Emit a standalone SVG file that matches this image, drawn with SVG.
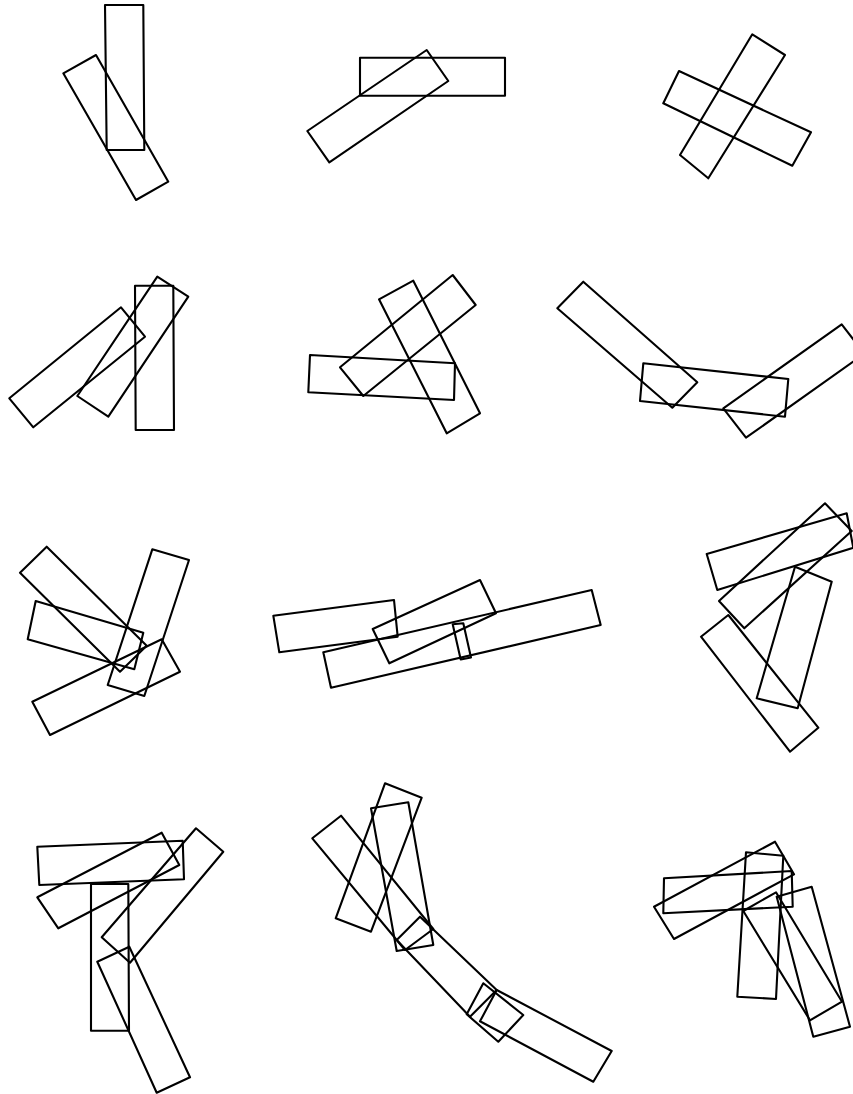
<svg xmlns="http://www.w3.org/2000/svg" width="853" height="1094" viewBox="0 0 853 1094">
<style>
polygon{fill:none;stroke:#000;stroke-width:2.1;stroke-linejoin:round}
</style>
<rect width="853" height="1094" fill="#fff"/>
<g id="p1">
<polygon points="105,5 143.3,5 144.3,150 106.7,150"/>
<polygon points="63.3,73.3 96,55 168.3,181.7 136,200"/>
</g>
<g id="p2">
<polygon points="360,57.7 505,57.7 505,95.7 360,95.7"/>
<polygon points="307.3,131 426.7,50 448.3,81 329.3,162.3"/>
</g>
<g id="p3">
<polygon points="752.3,34.3 785,55 708.3,178.3 680,155"/>
<polygon points="679,71 811,132.3 792.3,165.7 663.3,103.3"/>
</g>
<g id="p4">
<polygon points="135,285.7 173.3,285.7 174,430 135.7,430"/>
<polygon points="9.3,398.3 121,307.3 145,336.7 33.3,427.3"/>
<polygon points="77.3,396 157.3,276.7 188.3,296.7 108.3,416.7"/>
</g>
<g id="p5">
<polygon points="310,355 455,363.3 454,400 308.3,392.3"/>
<polygon points="379,299.3 413.3,280.7 480,413.3 446.7,433.3"/>
<polygon points="340,367.3 452.7,275 475.7,305 363.3,396"/>
</g>
<g id="p6">
<polygon points="557.3,308.3 583.3,281.7 697.3,382.3 672.3,407.7"/>
<polygon points="643.3,363.3 788.3,379 785,416.7 640,401"/>
<polygon points="723.3,408.3 841.7,324.3 864.4,353.7 746,437.7"/>
</g>
<g id="p7">
<polygon points="20,572.7 46.7,546.7 146.7,645.7 120,671.7"/>
<polygon points="35.7,601 143.3,632.7 134.3,669.3 27.7,639.3"/>
<polygon points="152.3,549.3 189,560 144.3,696 107.7,685"/>
<polygon points="32.3,701.7 161.7,639.3 180,671.7 50,735"/>
</g>
<g id="p8">
<polygon points="273.3,615.7 394,600 397.7,636.7 279.3,652.3"/>
<polygon points="372.7,629 480,580 496,613.3 389.3,663.3"/>
<polygon points="323.3,652.3 591.7,590 600.7,625 331,687.7"/>
<polygon points="452.7,624.3 463.3,623.3 471,657.5 460.7,659.5"/>
</g>
<g id="p9">
<polygon points="706.7,554 846.7,513.3 853.3,547.7 717.3,590"/>
<polygon points="719,601 825,503.3 851.7,531 744.3,628.3"/>
<polygon points="795,566.7 831.7,581.7 797.7,708.3 756.7,698.3"/>
<polygon points="701,636.7 728.3,615 818.3,727.7 790,751.7"/>
</g>
<g id="p10">
<polygon points="37.3,846.7 182.7,840.7 184,879.3 39.3,885"/>
<polygon points="37.3,897.3 161.7,832.7 179.3,865 58.3,928.3"/>
<polygon points="91,884 128.3,884 129,1030.7 91,1030.7"/>
<polygon points="101.7,937.3 196,828.3 223.3,851.7 130,962.7"/>
<polygon points="97.3,961.7 129.3,946.7 190,1077.3 156.7,1092.7"/>
</g>
<g id="p11">
<polygon points="385,783.3 421.7,797.7 371,931.7 335.7,918.3"/>
<polygon points="371,808.3 408.3,802.3 433.3,945 396.7,951"/>
<polygon points="312.3,838.3 341,815.7 433.3,929 405,950"/>
<polygon points="396.7,940 420,916.7 496.7,990 470,1016.7"/>
<polygon points="483.3,983.3 523.3,1015 498.3,1041.7 466.7,1014.3"/>
<polygon points="496.7,990 611.7,1051 593.3,1081.7 480,1021.3"/>
</g>
<g id="p12">
<polygon points="664,878.3 791.7,871 792.7,906.7 663.3,913.3"/>
<polygon points="654,906.7 775,841.7 794,874.3 674,939"/>
<polygon points="746,852.3 783.3,855.7 776,999 737.3,996.7"/>
<polygon points="776.7,896.7 811.7,886.7 850,1026.7 813.3,1036.7"/>
<polygon points="743.3,911 776,892.3 842,1001.7 810,1020.3"/>
</g>
</svg>
